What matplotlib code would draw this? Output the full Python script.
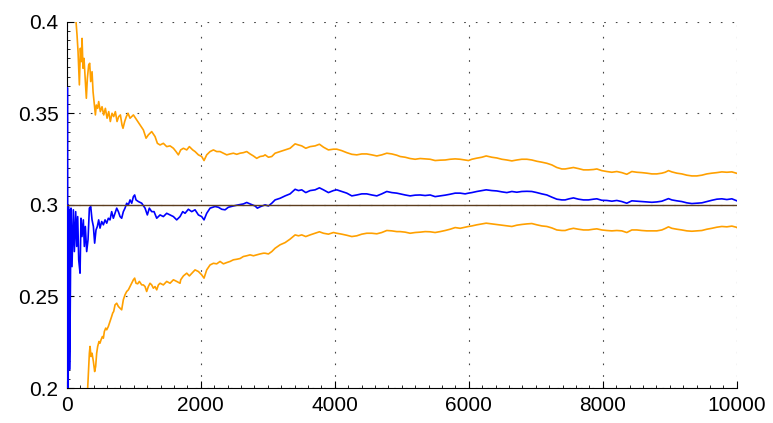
import matplotlib
matplotlib.use('Agg')
import matplotlib.pyplot as plt
from matplotlib.ticker import MultipleLocator, FormatStrFormatter

plt.rcParams['font.family'] = ['Liberation Sans', 'DejaVu Sans']
plt.rcParams['font.size'] = 15

# running estimate (blue)
est_x = [6, 10, 14, 18, 22, 26, 30, 36, 42, 49, 64, 79, 99, 114, 134, 149, 164, 179, 199, 213,
         228, 248, 263, 278, 298, 318, 338, 358, 378, 398, 417, 437, 457, 477, 497, 522, 547, 572,
         597, 621, 646, 671, 696, 721, 746, 771, 796, 820, 845, 870, 895, 920, 945, 970, 995, 1014,
         1034, 1069, 1119, 1169, 1203, 1233, 1268, 1303, 1343, 1393, 1442, 1492, 1542, 1592, 1641,
         1691, 1731, 1766, 1815, 1865, 1915, 1965, 2014, 2049, 2089, 2139, 2213, 2263, 2313, 2363,
         2412, 2487, 2562, 2636, 2686, 2736, 2810, 2845, 2895, 2960, 3010, 3060, 3109, 3184, 3259,
         3333, 3408, 3458, 3507, 3567, 3632, 3706, 3771, 3831, 3905, 3980, 4030, 4104, 4179, 4254,
         4328, 4403, 4477, 4552, 4627, 4701, 4776, 4851, 4925, 4975, 5050, 5124, 5199, 5274, 5348,
         5423, 5497, 5572, 5647, 5721, 5796, 5871, 5945, 5995, 6045, 6119, 6194, 6259, 6343, 6418,
         6492, 6567, 6642, 6716, 6791, 6866, 6940, 7015, 7089, 7164, 7239, 7313, 7388, 7437, 7497,
         7561, 7636, 7711, 7785, 7860, 7910, 7984, 8059, 8134, 8208, 8283, 8357, 8432, 8507, 8581,
         8656, 8731, 8805, 8880, 8930, 8979, 9029, 9104, 9178, 9253, 9328, 9402, 9477, 9551, 9626,
         9701, 9775, 9850, 9925, 9990, 10000]
est_y = [0.2, 0.364, 0.25, 0.3, 0.2, 0.299, 0.2227, 0.2973, 0.21, 0.2263, 0.2982, 0.2663, 0.2973,
         0.2745, 0.2963, 0.2773, 0.2936, 0.270, 0.2627, 0.2927, 0.2827, 0.2918, 0.2773, 0.2882,
         0.2745, 0.2809, 0.2982, 0.2991, 0.2918, 0.2882, 0.2791, 0.2863, 0.2882, 0.2918, 0.2873,
         0.2909, 0.2891, 0.2918, 0.2900, 0.2927, 0.2918, 0.2963, 0.2927, 0.2954, 0.2982, 0.2963,
         0.2936, 0.2927, 0.2963, 0.2982, 0.3009, 0.3000, 0.3027, 0.3009, 0.3045, 0.3054, 0.3027,
         0.3018, 0.3009, 0.2982, 0.2945, 0.2982, 0.2963, 0.2963, 0.2927, 0.2945, 0.2936, 0.2954,
         0.2945, 0.2936, 0.2918, 0.2936, 0.2963, 0.2954, 0.2976, 0.2963, 0.2973, 0.2945, 0.2936,
         0.2918, 0.2954, 0.2982, 0.2991, 0.2987, 0.2976, 0.2973, 0.2987, 0.2994, 0.3000, 0.3005,
         0.3013, 0.3005, 0.2994, 0.2982, 0.2991, 0.3000, 0.2994, 0.3009, 0.3027, 0.3036, 0.3049,
         0.3060, 0.3085, 0.3078, 0.3082, 0.3067, 0.3078, 0.3082, 0.3093, 0.3082, 0.3067, 0.3078,
         0.3082, 0.3073, 0.3064, 0.3049, 0.3054, 0.3060, 0.3060, 0.3054, 0.3049, 0.3060, 0.3073,
         0.3067, 0.3064, 0.3060, 0.3054, 0.3049, 0.3053, 0.3054, 0.3051, 0.3054, 0.3045, 0.3049,
         0.3053, 0.3058, 0.3064, 0.3064, 0.3060, 0.3064, 0.3067, 0.3073, 0.3078, 0.3082, 0.3078,
         0.3076, 0.3071, 0.3067, 0.3073, 0.3069, 0.3073, 0.3074, 0.3073, 0.3067, 0.3060, 0.3054,
         0.3042, 0.3031, 0.3027, 0.3027, 0.3033, 0.3038, 0.3031, 0.3027, 0.3027, 0.3031, 0.3033,
         0.3025, 0.3024, 0.3020, 0.3024, 0.3018, 0.3009, 0.3022, 0.3020, 0.3018, 0.3016, 0.3014,
         0.3016, 0.3020, 0.3027, 0.3034, 0.3027, 0.3022, 0.3018, 0.3011, 0.3007, 0.3009, 0.3011,
         0.3018, 0.3025, 0.3031, 0.3033, 0.3029, 0.3033, 0.3024, 0.3022]

# upper bound (orange)
up_x = [139, 154, 169, 189, 204, 219, 229, 243, 258, 278, 293, 308, 328, 343, 358, 378, 393, 413,
        428, 442, 462, 477, 502, 527, 552, 577, 602, 627, 651, 676, 701, 726, 751, 776, 801, 825,
        840, 865, 890, 915, 945, 995, 1044, 1094, 1144, 1184, 1218, 1268, 1318, 1353, 1393, 1442,
        1492, 1542, 1592, 1631, 1666, 1701, 1741, 1791, 1830, 1880, 1915, 1965, 2014, 2049, 2089,
        2139, 2189, 2238, 2288, 2338, 2388, 2437, 2487, 2537, 2587, 2636, 2686, 2736, 2786, 2835,
        2885, 2935, 2960, 3010, 3060, 3109, 3184, 3259, 3333, 3408, 3458, 3507, 3567, 3632, 3706,
        3771, 3831, 3905, 3980, 4030, 4104, 4179, 4254, 4328, 4403, 4477, 4552, 4627, 4701, 4776,
        4851, 4925, 4975, 5050, 5124, 5199, 5274, 5348, 5423, 5497, 5572, 5647, 5721, 5796, 5871,
        5945, 5995, 6045, 6119, 6194, 6259, 6343, 6418, 6492, 6567, 6642, 6716, 6791, 6866, 6940,
        7015, 7089, 7164, 7239, 7313, 7388, 7437, 7497, 7561, 7636, 7711, 7785, 7860, 7910, 7984,
        8059, 8134, 8208, 8283, 8357, 8432, 8507, 8581, 8656, 8731, 8805, 8880, 8930, 8979, 9029,
        9104, 9178, 9253, 9328, 9402, 9477, 9551, 9626, 9701, 9775, 9850, 9925, 9990, 10000]
up_y = [0.4000, 0.3927, 0.3837, 0.3655, 0.3855, 0.3782, 0.3909, 0.3746, 0.3800, 0.3673, 0.3582,
        0.3691, 0.3764, 0.3773, 0.3673, 0.3727, 0.3618, 0.3545, 0.3491, 0.3545, 0.3527, 0.3564,
        0.3509, 0.3536, 0.3491, 0.3527, 0.3473, 0.3509, 0.3455, 0.3500, 0.3482, 0.3509, 0.3455,
        0.3482, 0.3491, 0.3436, 0.3418, 0.3455, 0.3482, 0.3500, 0.3473, 0.3491, 0.3464, 0.3436,
        0.3409, 0.3364, 0.3382, 0.3400, 0.3373, 0.3336, 0.3327, 0.3336, 0.3318, 0.3322, 0.3309,
        0.3291, 0.3273, 0.3300, 0.3309, 0.3300, 0.3318, 0.3300, 0.3291, 0.3273, 0.3264, 0.3242,
        0.3273, 0.3291, 0.3300, 0.3291, 0.3291, 0.3282, 0.3273, 0.3278, 0.3282, 0.3276, 0.3282,
        0.3285, 0.3291, 0.3278, 0.3267, 0.3254, 0.3264, 0.3267, 0.3273, 0.3260, 0.3264, 0.3282,
        0.3291, 0.3300, 0.3309, 0.3333, 0.3327, 0.3322, 0.3309, 0.3318, 0.3322, 0.3331, 0.3315,
        0.3300, 0.3304, 0.3304, 0.3296, 0.3285, 0.3276, 0.3273, 0.3278, 0.3278, 0.3273, 0.3267,
        0.3273, 0.3282, 0.3278, 0.3271, 0.3264, 0.3260, 0.3253, 0.3249, 0.3253, 0.3251, 0.3249,
        0.3242, 0.3244, 0.3245, 0.3249, 0.3251, 0.3249, 0.3245, 0.3242, 0.3249, 0.3255, 0.3260,
        0.3267, 0.3260, 0.3256, 0.3249, 0.3245, 0.3240, 0.3245, 0.3249, 0.3249, 0.3245, 0.3238,
        0.3233, 0.3227, 0.3218, 0.3204, 0.3196, 0.3196, 0.3200, 0.3204, 0.3198, 0.3191, 0.3191,
        0.3193, 0.3196, 0.3187, 0.3182, 0.3178, 0.3182, 0.3176, 0.3167, 0.3182, 0.3178, 0.3176,
        0.3173, 0.3169, 0.3169, 0.3173, 0.3178, 0.3187, 0.3180, 0.3173, 0.3169, 0.3162, 0.3158,
        0.3158, 0.3162, 0.3169, 0.3173, 0.3176, 0.3180, 0.3178, 0.3180, 0.3173, 0.3172]

# lower bound (orange)
lo_x = [313, 323, 338, 348, 363, 378, 398, 417, 432, 447, 462, 482, 497, 512, 532, 547, 562, 582,
        597, 621, 646, 671, 686, 701, 721, 746, 771, 796, 820, 845, 870, 895, 920, 945, 970, 995,
        1014, 1034, 1059, 1084, 1119, 1144, 1169, 1193, 1218, 1243, 1268, 1293, 1318, 1343, 1368,
        1393, 1442, 1492, 1542, 1592, 1641, 1691, 1701, 1741, 1791, 1830, 1880, 1915, 1965, 2014,
        2049, 2089, 2139, 2189, 2238, 2288, 2338, 2388, 2437, 2487, 2537, 2587, 2636, 2686, 2736,
        2786, 2835, 2885, 2935, 2960, 3010, 3060, 3109, 3184, 3259, 3333, 3408, 3458, 3507, 3567,
        3632, 3706, 3771, 3831, 3905, 3980, 4030, 4104, 4179, 4254, 4328, 4403, 4477, 4552, 4627,
        4701, 4776, 4851, 4925, 4975, 5050, 5124, 5199, 5274, 5348, 5423, 5497, 5572, 5647, 5721,
        5796, 5871, 5945, 5995, 6045, 6119, 6194, 6259, 6343, 6418, 6492, 6567, 6642, 6716, 6791,
        6866, 6940, 7015, 7089, 7164, 7239, 7313, 7388, 7437, 7497, 7561, 7636, 7711, 7785, 7860,
        7910, 7984, 8059, 8134, 8208, 8283, 8357, 8432, 8507, 8581, 8656, 8731, 8805, 8880, 8930,
        8979, 9029, 9104, 9178, 9253, 9328, 9402, 9477, 9551, 9626, 9701, 9775, 9850, 9925, 9990,
        10000]
lo_y = [0.2000, 0.2081, 0.2190, 0.2227, 0.2172, 0.2190, 0.2145, 0.2090, 0.2118, 0.2190, 0.2227,
        0.2254, 0.2245, 0.2263, 0.2281, 0.2272, 0.2309, 0.2327, 0.2318, 0.2336, 0.2363, 0.2391,
        0.2409, 0.2418, 0.2454, 0.2463, 0.2445, 0.2436, 0.2427, 0.2482, 0.2509, 0.2527, 0.2536,
        0.2554, 0.2572, 0.2591, 0.2600, 0.2572, 0.2569, 0.2582, 0.2563, 0.2563, 0.2554, 0.2527,
        0.2554, 0.2572, 0.2563, 0.2545, 0.2554, 0.2536, 0.2563, 0.2572, 0.2563, 0.2582, 0.2572,
        0.2591, 0.2582, 0.2572, 0.2591, 0.2612, 0.2627, 0.2612, 0.2631, 0.2645, 0.2636, 0.2618,
        0.2600, 0.2645, 0.2672, 0.2681, 0.2678, 0.2691, 0.2678, 0.2685, 0.2691, 0.2700, 0.2703,
        0.2707, 0.2718, 0.2722, 0.2727, 0.2722, 0.2727, 0.2732, 0.2736, 0.2736, 0.2732, 0.2745,
        0.2763, 0.2782, 0.2794, 0.2813, 0.2836, 0.2831, 0.2836, 0.2827, 0.2836, 0.2845, 0.2853,
        0.2845, 0.2840, 0.2849, 0.2845, 0.2840, 0.2834, 0.2827, 0.2831, 0.2840, 0.2845, 0.2845,
        0.2842, 0.2849, 0.2860, 0.2858, 0.2854, 0.2854, 0.2851, 0.2845, 0.2849, 0.2851, 0.2854,
        0.2853, 0.2849, 0.2854, 0.2860, 0.2867, 0.2876, 0.2872, 0.2878, 0.2882, 0.2885, 0.2891,
        0.2896, 0.2900, 0.2896, 0.2893, 0.2889, 0.2885, 0.2882, 0.2889, 0.2893, 0.2896, 0.2898,
        0.2891, 0.2885, 0.2882, 0.2874, 0.2863, 0.2860, 0.2860, 0.2867, 0.2872, 0.2867, 0.2863,
        0.2863, 0.2867, 0.2869, 0.2863, 0.2860, 0.2858, 0.2860, 0.2858, 0.2849, 0.2863, 0.2863,
        0.2860, 0.2858, 0.2858, 0.2858, 0.2863, 0.2871, 0.2880, 0.2872, 0.2867, 0.2863, 0.2858,
        0.2856, 0.2858, 0.2860, 0.2867, 0.2872, 0.2878, 0.2882, 0.2880, 0.2884, 0.2878, 0.2876]

true_p = 0.3

fig = plt.figure(figsize=(7.73, 4.23), dpi=100)
ax = fig.add_axes([0.0863, 0.0827, 0.867, 0.866])

ax.plot(up_x, up_y, color='#ffa000', lw=1.2, zorder=3)
ax.plot(lo_x, lo_y, color='#ffa000', lw=1.2, zorder=3)
ax.plot(est_x, est_y, color='#0000ff', lw=1.2, zorder=3)
ax.axhline(true_p, color='#5c3d1e', lw=1.0, zorder=4)

ax.set_xlim(0, 10000)
ax.set_ylim(0.2, 0.4)
ax.xaxis.set_major_locator(MultipleLocator(2000))
ax.xaxis.set_minor_locator(MultipleLocator(200))
ax.yaxis.set_major_locator(MultipleLocator(0.05))
ax.yaxis.set_minor_locator(MultipleLocator(0.005))
ax.xaxis.set_major_formatter(FormatStrFormatter('%g'))
ax.yaxis.set_major_formatter(FormatStrFormatter('%g'))

ax.spines['top'].set_visible(False)
ax.spines['right'].set_visible(False)
ax.tick_params(which='major', direction='in', length=5, width=0.8, pad=6)
ax.tick_params(which='minor', direction='in', length=2.5, width=0.6)
ax.grid(True, which='major', linestyle=(0, (1.5, 9)), color='#444444', linewidth=0.8)

fig.savefig('out.png', dpi=100)
